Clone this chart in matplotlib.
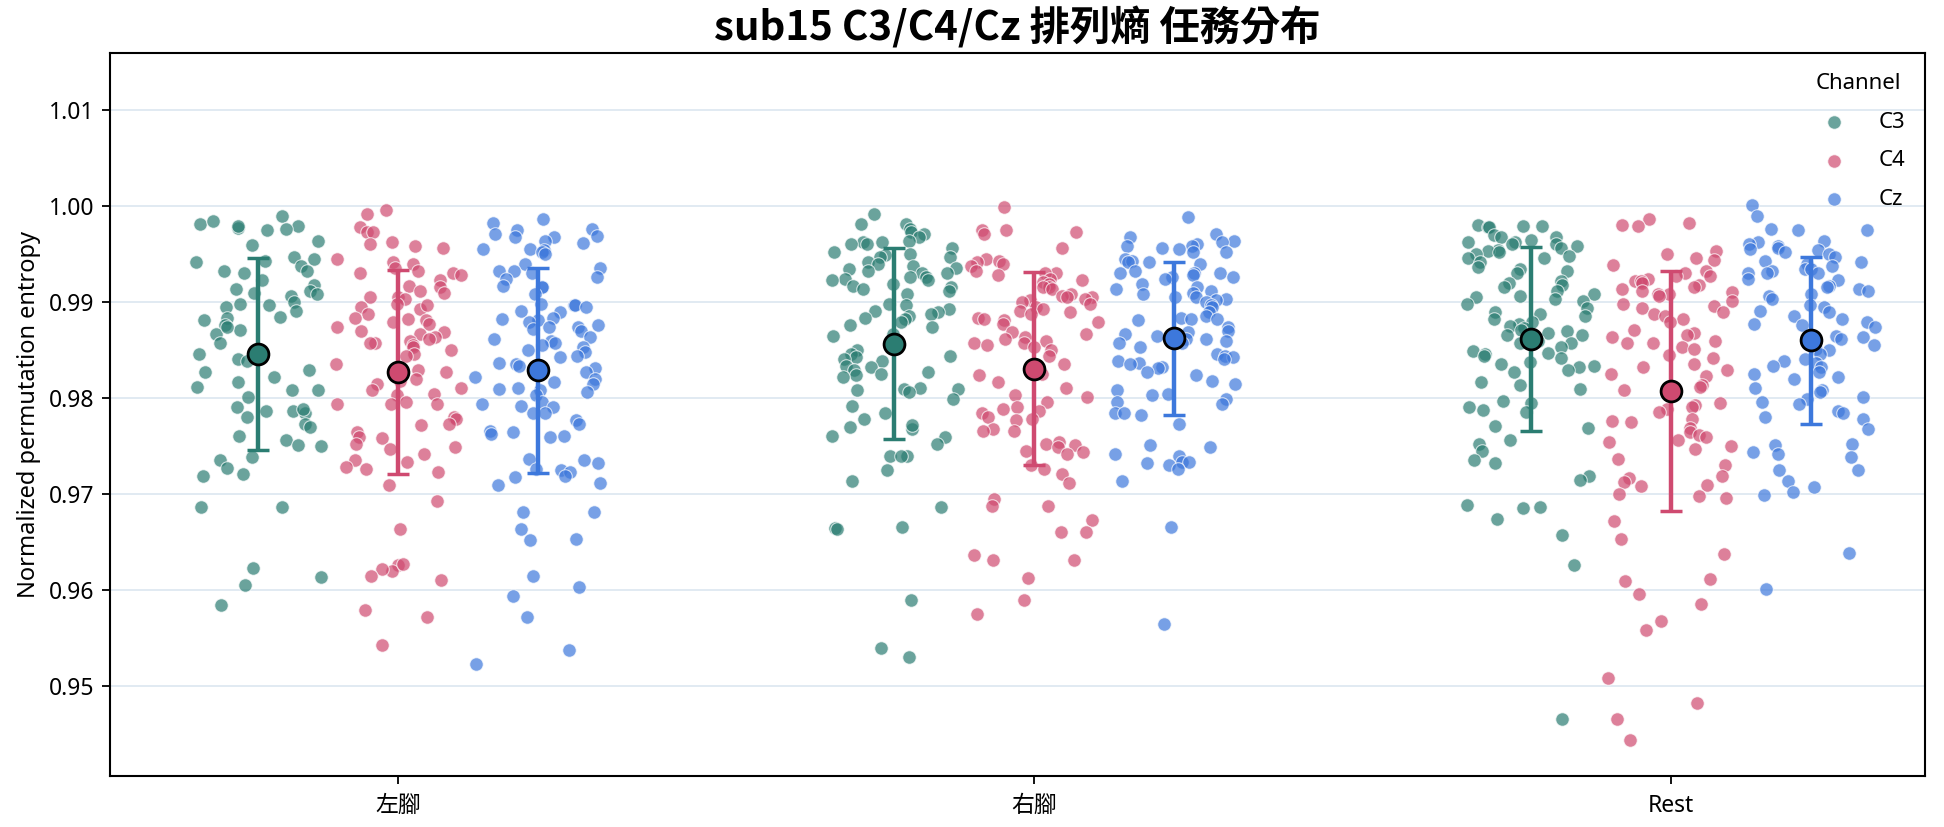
import numpy as np
import matplotlib
matplotlib.use("Agg")
import matplotlib.pyplot as plt

plt.rcParams['font.family'] = ['Noto Sans', 'Noto Sans CJK TC', 'DejaVu Sans']

# 任務與通道
tasks = ['左腳', '右腳', 'Rest']
channels = ['C3', 'C4', 'Cz']
colors = {'C3': '#2b7d72', 'C4': '#cf4a70', 'Cz': '#3d78dc'}

# 各任務 / 通道的正規化排列熵
left_c3 = [0.9990, 0.9980, 0.9977, 0.9982, 0.9975, 0.9985, 0.9976, 0.9980, 0.9960, 0.9964,
           0.9947, 0.9938, 0.9943, 0.9945, 0.9942, 0.9933, 0.9930, 0.9933, 0.9923, 0.9918,
           0.9914, 0.9912, 0.9910, 0.9909, 0.9907, 0.9900, 0.9898, 0.9897, 0.9895, 0.9891,
           0.9884, 0.9885, 0.9881, 0.9876, 0.9871, 0.9867, 0.9874, 0.9858, 0.9846, 0.9841,
           0.9844, 0.9839, 0.9829, 0.9827, 0.9822, 0.9817, 0.9812, 0.9808, 0.9801, 0.9809,
           0.9787, 0.9785, 0.9787, 0.9791, 0.9789, 0.9780, 0.9773, 0.9770, 0.9761, 0.9756,
           0.9751, 0.9750, 0.9739, 0.9736, 0.9727, 0.9721, 0.9719, 0.9687, 0.9687, 0.9623,
           0.9613, 0.9605, 0.9584]
left_c4 = [0.9996, 0.9992, 0.9978, 0.9973, 0.9973, 0.9963, 0.9961, 0.9959, 0.9957, 0.9945,
           0.9942, 0.9940, 0.9936, 0.9933, 0.9930, 0.9931, 0.9928, 0.9923, 0.9917, 0.9916,
           0.9912, 0.9910, 0.9905, 0.9905, 0.9903, 0.9898, 0.9895, 0.9893, 0.9897, 0.9888,
           0.9884, 0.9883, 0.9879, 0.9881, 0.9877, 0.9874, 0.9870, 0.9869, 0.9867, 0.9864,
           0.9862, 0.9860, 0.9858, 0.9857, 0.9855, 0.9853, 0.9850, 0.9846, 0.9844, 0.9836,
           0.9829, 0.9827, 0.9820, 0.9818, 0.9815, 0.9811, 0.9808, 0.9804, 0.9803, 0.9796,
           0.9794, 0.9794, 0.9794, 0.9780, 0.9778, 0.9773, 0.9772, 0.9765, 0.9759, 0.9758,
           0.9752, 0.9749, 0.9747, 0.9742, 0.9735, 0.9733, 0.9728, 0.9726, 0.9723, 0.9709,
           0.9693, 0.9664, 0.9626, 0.9620, 0.9622, 0.9627, 0.9615, 0.9610, 0.9579, 0.9572,
           0.9543]
left_cz = [0.9987, 0.9983, 0.9976, 0.9975, 0.9969, 0.9971, 0.9968, 0.9968, 0.9964, 0.9962,
           0.9956, 0.9956, 0.9954, 0.9952, 0.9950, 0.9940, 0.9936, 0.9933, 0.9933, 0.9931,
           0.9926, 0.9924, 0.9917, 0.9916, 0.9916, 0.9909, 0.9898, 0.9897, 0.9897, 0.9895,
           0.9891, 0.9890, 0.9884, 0.9883, 0.9881, 0.9879, 0.9876, 0.9874, 0.9874, 0.9872,
           0.9870, 0.9864, 0.9862, 0.9860, 0.9858, 0.9855, 0.9853, 0.9850, 0.9848, 0.9844,
           0.9843, 0.9837, 0.9836, 0.9834, 0.9831, 0.9827, 0.9822, 0.9820, 0.9817, 0.9815,
           0.9811, 0.9810, 0.9808, 0.9806, 0.9803, 0.9796, 0.9794, 0.9792, 0.9791, 0.9785,
           0.9784, 0.9777, 0.9773, 0.9766, 0.9765, 0.9763, 0.9761, 0.9759, 0.9737, 0.9735,
           0.9732, 0.9726, 0.9725, 0.9723, 0.9719, 0.9718, 0.9711, 0.9709, 0.9681, 0.9681,
           0.9664, 0.9653, 0.9652, 0.9615, 0.9603, 0.9594, 0.9572, 0.9537, 0.9523]
right_c3 = [0.9992, 0.9982, 0.9982, 0.9976, 0.9973, 0.9971, 0.9968, 0.9964, 0.9963, 0.9963,
            0.9961, 0.9961, 0.9957, 0.9952, 0.9950, 0.9949, 0.9947, 0.9947, 0.9942, 0.9940,
            0.9938, 0.9936, 0.9935, 0.9933, 0.9931, 0.9930, 0.9926, 0.9926, 0.9924, 0.9923,
            0.9923, 0.9919, 0.9917, 0.9916, 0.9914, 0.9912, 0.9909, 0.9898, 0.9897, 0.9893,
            0.9891, 0.9890, 0.9888, 0.9886, 0.9884, 0.9883, 0.9879, 0.9876, 0.9874, 0.9867,
            0.9865, 0.9855, 0.9850, 0.9846, 0.9844, 0.9843, 0.9841, 0.9839, 0.9834, 0.9832,
            0.9829, 0.9827, 0.9825, 0.9824, 0.9822, 0.9811, 0.9810, 0.9810, 0.9808, 0.9806,
            0.9799, 0.9792, 0.9784, 0.9778, 0.9770, 0.9768, 0.9772, 0.9761, 0.9759, 0.9752,
            0.9740, 0.9740, 0.9740, 0.9725, 0.9714, 0.9686, 0.9666, 0.9665, 0.9664, 0.9590,
            0.9539, 0.9530]
right_c4 = [0.9999, 0.9975, 0.9975, 0.9973, 0.9971, 0.9957, 0.9945, 0.9943, 0.9942, 0.9940,
            0.9938, 0.9933, 0.9931, 0.9930, 0.9928, 0.9924, 0.9923, 0.9921, 0.9919, 0.9916,
            0.9916, 0.9914, 0.9909, 0.9907, 0.9905, 0.9905, 0.9903, 0.9902, 0.9900, 0.9898,
            0.9895, 0.9893, 0.9891, 0.9890, 0.9888, 0.9884, 0.9883, 0.9881, 0.9879, 0.9877,
            0.9869, 0.9867, 0.9864, 0.9862, 0.9860, 0.9858, 0.9857, 0.9855, 0.9853, 0.9850,
            0.9844, 0.9836, 0.9825, 0.9824, 0.9817, 0.9811, 0.9803, 0.9801, 0.9796, 0.9791,
            0.9789, 0.9787, 0.9784, 0.9780, 0.9778, 0.9777, 0.9768, 0.9766, 0.9766, 0.9754,
            0.9752, 0.9751, 0.9749, 0.9745, 0.9744, 0.9742, 0.9730, 0.9726, 0.9721, 0.9712,
            0.9695, 0.9688, 0.9688, 0.9673, 0.9660, 0.9660, 0.9636, 0.9631, 0.9631, 0.9612,
            0.9589, 0.9575]
right_cz = [0.9989, 0.9971, 0.9968, 0.9964, 0.9963, 0.9961, 0.9959, 0.9959, 0.9957, 0.9956,
            0.9952, 0.9952, 0.9945, 0.9943, 0.9942, 0.9942, 0.9940, 0.9933, 0.9931, 0.9931,
            0.9930, 0.9928, 0.9926, 0.9926, 0.9924, 0.9919, 0.9916, 0.9914, 0.9912, 0.9910,
            0.9909, 0.9905, 0.9905, 0.9903, 0.9902, 0.9900, 0.9897, 0.9895, 0.9890, 0.9886,
            0.9884, 0.9883, 0.9883, 0.9881, 0.9874, 0.9870, 0.9869, 0.9867, 0.9865, 0.9864,
            0.9862, 0.9862, 0.9860, 0.9858, 0.9857, 0.9853, 0.9846, 0.9844, 0.9843, 0.9841,
            0.9839, 0.9837, 0.9836, 0.9832, 0.9831, 0.9827, 0.9824, 0.9818, 0.9815, 0.9808,
            0.9804, 0.9803, 0.9799, 0.9796, 0.9794, 0.9785, 0.9784, 0.9782, 0.9773, 0.9751,
            0.9749, 0.9742, 0.9740, 0.9733, 0.9733, 0.9732, 0.9730, 0.9726, 0.9714, 0.9666,
            0.9565]
rest_c3 = [0.9981, 0.9980, 0.9980, 0.9978, 0.9978, 0.9970, 0.9968, 0.9968, 0.9965, 0.9963,
           0.9963, 0.9961, 0.9961, 0.9959, 0.9957, 0.9955, 0.9953, 0.9952, 0.9950, 0.9948,
           0.9946, 0.9946, 0.9942, 0.9937, 0.9935, 0.9933, 0.9931, 0.9922, 0.9920, 0.9918,
           0.9916, 0.9912, 0.9909, 0.9907, 0.9905, 0.9903, 0.9901, 0.9898, 0.9894, 0.9890,
           0.9888, 0.9886, 0.9883, 0.9879, 0.9877, 0.9875, 0.9873, 0.9871, 0.9870, 0.9868,
           0.9866, 0.9866, 0.9864, 0.9860, 0.9857, 0.9857, 0.9853, 0.9849, 0.9847, 0.9846,
           0.9844, 0.9842, 0.9838, 0.9836, 0.9834, 0.9833, 0.9829, 0.9827, 0.9817, 0.9814,
           0.9810, 0.9797, 0.9795, 0.9791, 0.9788, 0.9786, 0.9771, 0.9769, 0.9756, 0.9752,
           0.9745, 0.9736, 0.9732, 0.9719, 0.9715, 0.9689, 0.9687, 0.9685, 0.9674, 0.9657,
           0.9626, 0.9465]
rest_c4 = [0.9983, 0.9981, 0.9987, 0.9980, 0.9953, 0.9950, 0.9946, 0.9944, 0.9939, 0.9933,
           0.9931, 0.9927, 0.9927, 0.9924, 0.9922, 0.9922, 0.9920, 0.9918, 0.9916, 0.9914,
           0.9912, 0.9911, 0.9909, 0.9909, 0.9907, 0.9901, 0.9898, 0.9896, 0.9894, 0.9890,
           0.9888, 0.9886, 0.9883, 0.9879, 0.9871, 0.9868, 0.9866, 0.9864, 0.9860, 0.9858,
           0.9857, 0.9853, 0.9851, 0.9845, 0.9842, 0.9836, 0.9832, 0.9829, 0.9825, 0.9823,
           0.9814, 0.9812, 0.9810, 0.9808, 0.9795, 0.9793, 0.9791, 0.9789, 0.9786, 0.9778,
           0.9776, 0.9775, 0.9769, 0.9765, 0.9762, 0.9760, 0.9756, 0.9754, 0.9750, 0.9747,
           0.9737, 0.9730, 0.9719, 0.9717, 0.9713, 0.9709, 0.9708, 0.9700, 0.9698, 0.9696,
           0.9672, 0.9653, 0.9637, 0.9611, 0.9609, 0.9596, 0.9585, 0.9568, 0.9558, 0.9508,
           0.9482, 0.9465, 0.9443]
rest_cz = [1.0001, 0.9990, 0.9976, 0.9975, 0.9975, 0.9964, 0.9963, 0.9961, 0.9959, 0.9957,
           0.9956, 0.9954, 0.9952, 0.9950, 0.9947, 0.9943, 0.9942, 0.9940, 0.9938, 0.9935,
           0.9935, 0.9933, 0.9931, 0.9931, 0.9930, 0.9924, 0.9923, 0.9917, 0.9916, 0.9914,
           0.9912, 0.9909, 0.9907, 0.9903, 0.9897, 0.9895, 0.9891, 0.9890, 0.9886, 0.9883,
           0.9879, 0.9877, 0.9876, 0.9874, 0.9865, 0.9864, 0.9862, 0.9855, 0.9851, 0.9850,
           0.9846, 0.9841, 0.9839, 0.9837, 0.9834, 0.9832, 0.9827, 0.9825, 0.9822, 0.9820,
           0.9811, 0.9808, 0.9806, 0.9801, 0.9799, 0.9796, 0.9794, 0.9787, 0.9785, 0.9780,
           0.9778, 0.9768, 0.9752, 0.9751, 0.9744, 0.9742, 0.9739, 0.9725, 0.9725, 0.9714,
           0.9707, 0.9702, 0.9699, 0.9638, 0.9601]

datos = {
    ('左腳', 'C3'): left_c3, ('左腳', 'C4'): left_c4, ('左腳', 'Cz'): left_cz,
    ('右腳', 'C3'): right_c3, ('右腳', 'C4'): right_c4, ('右腳', 'Cz'): right_cz,
    ('Rest', 'C3'): rest_c3, ('Rest', 'C4'): rest_c4, ('Rest', 'Cz'): rest_cz,
}

fig = plt.figure(figsize=(19.44, 8.27), dpi=100)
ax = fig.add_axes([0.0566, 0.0617, 0.9336, 0.8743])

rng = np.random.default_rng(15)  # solo para el jitter horizontal
offset = 0.22

for i, tarea in enumerate(tasks):
    for j, ch in enumerate(channels):
        y = np.array(datos[(tarea, ch)])
        xc = i + (j - 1) * offset
        x = xc + rng.uniform(-0.1, 0.1, len(y))
        ax.scatter(x, y, s=95, color=colors[ch], alpha=0.7, edgecolor='white',
                   linewidth=0.8, zorder=3, label=ch if i == 0 else None)
        media = y.mean()
        sd = y.std(ddof=1)
        ax.errorbar(xc, media, yerr=sd, color=colors[ch], elinewidth=3.2, capsize=8,
                    capthick=2.5, zorder=4)
        ax.plot(xc, media, 'o', ms=15, mfc=colors[ch], mec='black', mew=2, zorder=5)

ax.set_xlim(-0.452, 2.399)
ax.set_ylim(0.9406, 1.016)
ax.set_yticks([0.95, 0.96, 0.97, 0.98, 0.99, 1.00, 1.01])
ax.set_yticklabels(['0.95', '0.96', '0.97', '0.98', '0.99', '1.00', '1.01'])
ax.set_xticks(range(len(tasks)))
ax.set_xticklabels(tasks)
ax.tick_params(axis='both', labelsize=16.5, width=1.3, length=6, pad=5)
ax.tick_params(axis='x', pad=7)
ax.grid(axis='y', color='#dce6f0', linewidth=1.2, zorder=0)
ax.set_axisbelow(True)
for s in ax.spines.values():
    s.set_linewidth(1.5)

ax.set_ylabel('Normalized permutation entropy', fontsize=17, labelpad=6)
ax.set_title('sub15 C3/C4/Cz 排列熵 任務分布', fontsize=29, fontweight='bold', pad=9,
             family=['Noto Sans CJK TC', 'DejaVu Sans'])

leg = ax.legend(title='Channel', loc='upper right', frameon=False, fontsize=16,
                title_fontsize=16, markerscale=1.0, handletextpad=1.0,
                labelspacing=0.8, borderaxespad=0.5)

fig.savefig('out.png', dpi=100)
